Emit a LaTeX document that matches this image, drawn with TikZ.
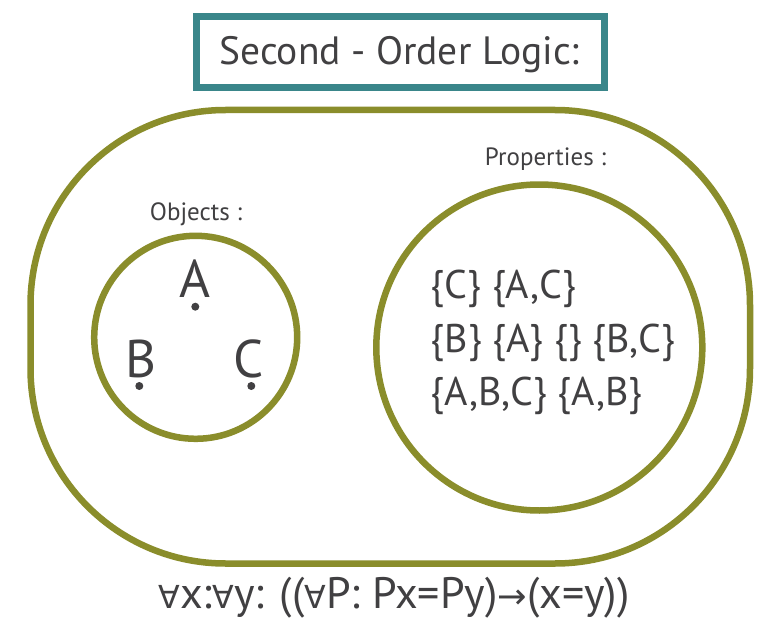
\documentclass[tikz,border=0pt]{standalone}
\usepackage{fontspec}
\setmainfont{PT Sans}
\newfontfamily\symfont{DejaVu Sans}
\newcommand{\fa}{{\symfont\scalebox{0.72}{∀}}}
\definecolor{olive}{HTML}{8A8D2B}
\definecolor{tealbox}{HTML}{3A868A}
\definecolor{ink}{HTML}{414042}
\begin{document}
\begin{tikzpicture}[x=1pt,y=-1pt,
  ring/.style={draw=olive, line width=6.5pt, circle, inner sep=0pt},
  lbl/.style={text=ink, inner sep=0pt, anchor=base},
  objdot/.style={fill=ink, circle, inner sep=0pt, minimum size=8pt}]
\useasboundingbox (0,0) rectangle (780,634);
\fill[white] (0,0) rectangle (780,634);
% title
\node[draw=tealbox, line width=7pt, minimum width=407.7pt, minimum height=71.5pt, inner sep=0pt] (titlebox) at (400.15,52.05) {};
\node[lbl, font=\fontsize{39.5}{40}\selectfont] (title) at (399.5,65) {Second - Order Logic:};
% outer
\node[draw=olive, line width=6.5pt, rounded corners=195pt, minimum width=719.5pt, minimum height=453.5pt, inner sep=0pt] (outer) at (390.25,336.75) {};
% circles
\node[ring, minimum size=203pt] (objects) at (195.7,337.3) {};
\node[ring, minimum size=326pt] (props) at (539.3,347.5) {};
\node[lbl, font=\fontsize{25}{25}\selectfont] (objlbl) at (196,220) {Objects :};
\node[lbl, font=\fontsize{25}{25}\selectfont] (proplbl) at (545.5,165) {Properties :};
% objects
\node[lbl, font=\fontsize{53}{53}\selectfont] (A) at (195.3,297) {A};
\node[lbl, font=\fontsize{53}{53}\selectfont] (B) at (141,377) {B};
\node[lbl, font=\fontsize{53}{53}\selectfont] (C) at (249,377) {C};
\node[objdot] (dA) at (195.3,306.7) {};
\node[objdot] (dB) at (139.3,386) {};
\node[objdot] (dC) at (251.3,386) {};
% sets
\node[lbl, anchor=base west, font=\fontsize{40}{40}\selectfont] (s1) at (430.7,298) {\{C\} \{A,C\}};
\node[lbl, anchor=base west, font=\fontsize{40}{40}\selectfont] (s2) at (430.7,352) {\{B\} \{A\} \{\} \{B,C\}};
\node[lbl, anchor=base west, font=\fontsize{40}{40}\selectfont] (s3) at (430.7,405) {\{A,B,C\} \{A,B\}};
% formula
\node[lbl, font=\fontsize{44}{44}\selectfont] (formula) at (394,608) {\fa x:\fa y: ((\fa P: Px=Py){\symfont\scalebox{0.8}{→}}(x=y))};
\end{tikzpicture}
\end{document}
